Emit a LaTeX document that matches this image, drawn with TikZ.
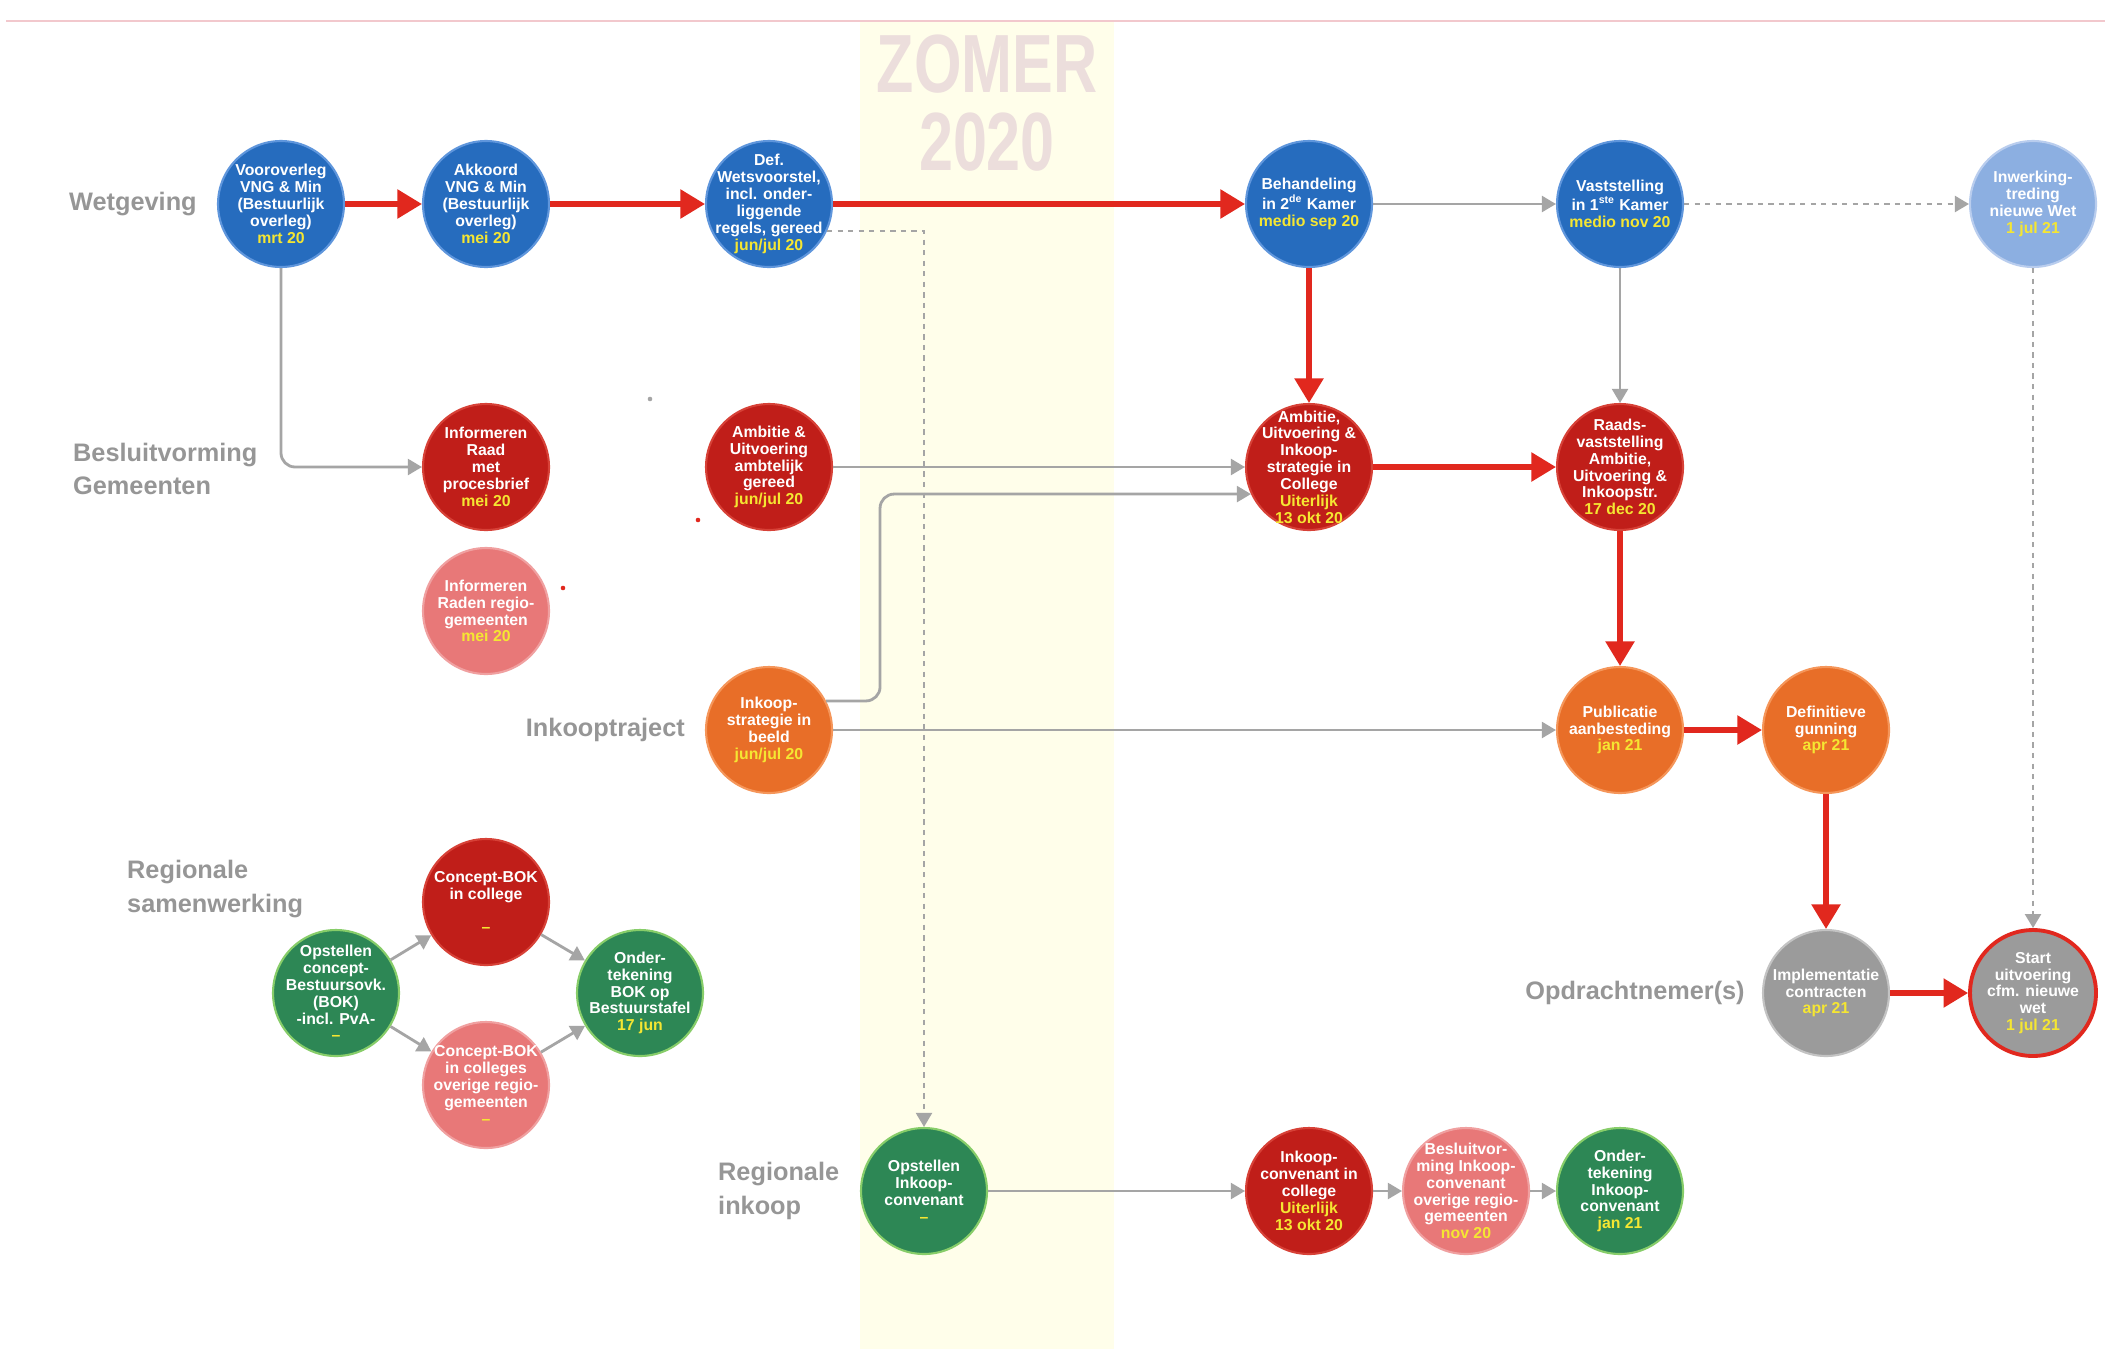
\documentclass[tikz,border=0pt]{standalone}
\usepackage{fontspec}
\setmainfont{Liberation Sans}
\usetikzlibrary{arrows.meta}

\definecolor{cblauw}{RGB}{38,108,190}
\definecolor{cblauwrand}{RGB}{95,150,220}
\definecolor{clicht}{RGB}{140,175,225}
\definecolor{clichtrand}{RGB}{185,205,238}
\definecolor{crood}{RGB}{192,30,25}
\definecolor{croodrand}{RGB}{215,65,55}
\definecolor{croze}{RGB}{232,120,120}
\definecolor{crozerand}{RGB}{240,160,160}
\definecolor{coranje}{RGB}{232,110,40}
\definecolor{coranjerand}{RGB}{245,150,90}
\definecolor{cgroen}{RGB}{45,135,85}
\definecolor{cgroenrand}{RGB}{135,205,105}
\definecolor{cgrijs}{RGB}{155,155,155}
\definecolor{cgrijsrand}{RGB}{195,195,195}
\definecolor{cpijlrood}{RGB}{225,40,30}
\definecolor{clijn}{RGB}{165,165,165}
\definecolor{clabel}{RGB}{150,150,150}
\definecolor{cdatum}{RGB}{245,230,50}
\definecolor{czomerband}{RGB}{255,254,234}
\definecolor{czomer}{RGB}{236,222,220}
\definecolor{ctoplijn}{RGB}{242,200,205}

\newcommand\datum[1]{\textcolor{cdatum}{#1}}

\begin{document}
\begin{tikzpicture}[
        x=0.02cm, y=-0.02cm,
        stap/.style={circle, minimum size=2.52cm, inner sep=0pt, line width=1.2pt},
        stapblauw/.style={stap, fill=cblauw, draw=cblauwrand},
        staplicht/.style={stap, fill=clicht, draw=clichtrand},
        staprood/.style={stap, fill=crood, draw=croodrand},
        staproze/.style={stap, fill=croze, draw=crozerand},
        staporanje/.style={stap, fill=coranje, draw=coranjerand},
        stapgroen/.style={stap, fill=cgroen, draw=cgroenrand},
        stapgrijs/.style={stap, fill=cgrijs, draw=cgrijsrand},
        tekst/.style={text=white, align=center, inner sep=0pt,
            font=\fontsize{9}{9.6}\selectfont\bfseries},
        rij/.style={text=clabel, align=left, font=\fontsize{14.4}{19}\selectfont\bfseries},
        roodpijl/.style={-{Triangle[length=14pt, width=16pt]}, line width=3pt, draw=cpijlrood},
        grijspijl/.style={-{Triangle[length=8pt, width=9pt]}, line width=1.6pt, draw=clijn},
        stippelpijl/.style={grijspijl, dash pattern=on 3pt off 3pt}
    ]

    % Achtergrond, zomerband en bovenlijn
    \fill[white] (0,0) rectangle (2105,1349);
    \useasboundingbox (0,0) rectangle (2105,1349);
    \fill[czomerband] (860,22) rectangle (1114,1349);
    \draw[ctoplijn, line width=1.5pt] (6,21) -- (2105,21);
    \node[text=czomer, font=\fontsize{47}{44}\selectfont\bfseries, xscale=0.74, align=center] (zomer) at (987,103) {ZOMER\\2020};

    % Rijlabels
    \node[rij, anchor=west] (lblwet) at (63,204) {Wetgeving};
    \node[rij, anchor=west] (lblbesl) at (67,469) {Besluitvorming\\Gemeenten};
    \node[rij, anchor=east] (lblinkoop) at (691,730) {Inkooptraject};
    \node[rij, anchor=west] (lblregsam) at (121,889) {Regionale\\samenwerking};
    \node[rij] (lblopdr) at (1635,993) {Opdrachtnemer(s)};
    \node[rij, anchor=west] (lblreginkoop) at (712,1191) {Regionale\\inkoop};

    % Wetgeving
    \node[stapblauw, label={[tekst]center:{Vooroverleg\\VNG \& Min\\(Bestuurlijk\\overleg)\\\datum{mrt 20}}}] (voor) at (281,204) {};
    \node[stapblauw, label={[tekst]center:{Akkoord\\VNG \& Min\\(Bestuurlijk\\overleg)\\\datum{mei 20}}}] (akk) at (486,204) {};
    \node[stapblauw, label={[tekst]center:{Def.\\Wetsvoorstel,\\incl. onder-\\liggende\\regels, gereed\\\datum{jun/jul 20}}}] (def) at (769,204) {};
    \node[stapblauw, label={[tekst]center:{Behandeling\\in 2\textsuperscript{de} Kamer\\\datum{medio sep 20}}}] (beh) at (1309,204) {};
    \node[stapblauw, label={[tekst]center:{Vaststelling\\in 1\textsuperscript{ste} Kamer\\\datum{medio nov 20}}}] (vast) at (1620,204) {};
    \node[staplicht, label={[tekst]center:{Inwerking-\\treding\\nieuwe Wet\\\datum{1 jul 21}}}] (inw) at (2033,204) {};

    % Besluitvorming gemeenten
    \node[staprood, label={[tekst]center:{Informeren\\Raad\\met\\procesbrief\\\datum{mei 20}}}] (raad) at (486,467) {};
    \node[staproze, label={[tekst]center:{Informeren\\Raden regio-\\gemeenten\\\datum{mei 20}}}] (raden) at (486,611) {};
    \node[staprood, label={[tekst]center:{Ambitie \&\\Uitvoering\\ambtelijk\\gereed\\\datum{jun/jul 20}}}] (ambamb) at (769,467) {};
    \node[staprood, label={[tekst]center:{Ambitie,\\Uitvoering \&\\Inkoop-\\strategie in\\College\\\datum{Uiterlijk}\\\datum{13 okt 20}}}] (college) at (1309,467) {};
    \node[staprood, label={[tekst]center:{Raads-\\vaststelling\\Ambitie,\\Uitvoering \&\\Inkoopstr.\\\datum{17 dec 20}}}] (raadsv) at (1620,467) {};

    % Inkooptraject
    \node[staporanje, label={[tekst]center:{Inkoop-\\strategie in\\beeld\\\datum{jun/jul 20}}}] (inkstrat) at (769,730) {};
    \node[staporanje, label={[tekst]center:{Publicatie\\aanbesteding\\\datum{jan 21}}}] (publ) at (1620,730) {};
    \node[staporanje, label={[tekst]center:{Definitieve\\gunning\\\datum{apr 21}}}] (gunning) at (1826,730) {};

    % Opdrachtnemer(s)
    \node[stapgrijs, label={[tekst]center:{Implementatie\\contracten\\\datum{apr 21}}}] (impl) at (1826,993) {};
    \node[stapgrijs, draw=cpijlrood, line width=2.2pt, label={[tekst]center:{Start\\uitvoering\\cfm. nieuwe\\wet\\\datum{1 jul 21}}}] (start) at (2033,993) {};

    % Regionale samenwerking
    \node[stapgroen, label={[tekst]center:{Opstellen\\concept-\\Bestuursovk.\\(BOK)\\-incl. PvA-\\\datum{--}}}] (opstbok) at (336,993) {};
    \node[staprood, label={[tekst]center:{Concept-BOK\\in college\\\strut\\\datum{--}}}] (bokcol) at (486,902) {};
    \node[staproze, label={[tekst]center:{Concept-BOK\\in colleges\\overige regio-\\gemeenten\\\datum{--}}}] (bokov) at (486,1085) {};
    \node[stapgroen, label={[tekst]center:{Onder-\\tekening\\BOK op\\Bestuurstafel\\\datum{17 jun}}}] (ondbok) at (640,993) {};

    % Regionale inkoop
    \node[stapgroen, label={[tekst]center:{Opstellen\\Inkoop-\\convenant\\\datum{--}}}] (opstink) at (924,1191) {};
    \node[staprood, label={[tekst]center:{Inkoop-\\convenant in\\college\\\datum{Uiterlijk}\\\datum{13 okt 20}}}] (inkcol) at (1309,1191) {};
    \node[staproze, label={[tekst]center:{Besluitvor-\\ming Inkoop-\\convenant\\overige regio-\\gemeenten\\\datum{nov 20}}}] (besink) at (1466,1191) {};
    \node[stapgroen, label={[tekst]center:{Onder-\\tekening\\Inkoop-\\convenant\\\datum{jan 21}}}] (ondink) at (1620,1191) {};

    % Grijze verbindingen
    \draw[grijspijl, rounded corners=8pt] (voor.south) |- (raad.west);
    \draw[stippelpijl] (def.-25) -| (opstink.north);
    \draw[grijspijl] (ambamb.east) -- (college.west);
    \draw[grijspijl, rounded corners=8pt] (inkstrat.27) -- ++(54,0) |- (college.205);
    \draw[grijspijl] (inkstrat.east) -- (publ.west);
    \draw[grijspijl] (beh.east) -- (vast.west);
    \draw[stippelpijl] (vast.east) -- (inw.west);
    \draw[grijspijl] (vast.south) -- (raadsv.north);
    \draw[stippelpijl] (inw.south) -- (start.north);
    \draw[grijspijl] (opstbok) -- (bokcol);
    \draw[grijspijl] (opstbok) -- (bokov);
    \draw[grijspijl] (bokcol) -- (ondbok);
    \draw[grijspijl] (bokov) -- (ondbok);
    \draw[grijspijl] (opstink.east) -- (inkcol.west);
    \draw[grijspijl] (inkcol.east) -- (besink.west);
    \draw[grijspijl] (besink.east) -- (ondink.west);

    % Rode verbindingen
    \draw[roodpijl] (voor.east) -- (akk.west);
    \draw[roodpijl] (akk.east) -- (def.west);
    \draw[roodpijl] (def.east) -- (beh.west);
    \draw[roodpijl] (beh.south) -- (college.north);
    \draw[roodpijl] (college.east) -- (raadsv.west);
    \draw[roodpijl] (raadsv.south) -- (publ.north);
    \draw[roodpijl] (publ.east) -- (gunning.west);
    \draw[roodpijl] (gunning.south) -- (impl.north);
    \draw[roodpijl] (impl.east) -- (start.west);

    % Losse stipjes
    \fill[clijn] (650,399) circle (1.3pt);
    \fill[cpijlrood] (698,520) circle (1.3pt);
    \fill[cpijlrood] (563,588) circle (1.3pt);

\end{tikzpicture}
\end{document}
